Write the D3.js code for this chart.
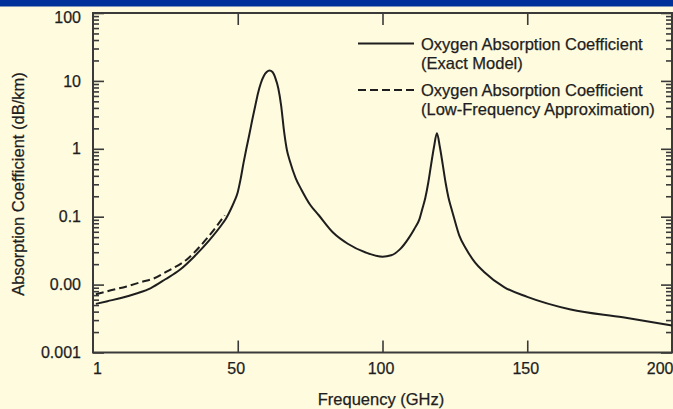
<!DOCTYPE html>
<html>
<head>
<meta charset="utf-8">
<script src="https://cdn.jsdelivr.net/npm/d3@7"></script>
<style>
  html, body { margin: 0; padding: 0; background: #FFFBDE; }
  svg { display: block; }
  text { font-family: "Liberation Sans", Arial, sans-serif; fill: #1e1e1e; stroke: #1e1e1e; stroke-width: 0.25px; }
</style>
</head>
<body>
<svg id="chart" width="673" height="409"></svg>
<script>
// ---- data ----
const exactFreq = [1, 5, 10, 15, 20, 25, 30, 35, 40, 45, 46, 48, 49, 50, 51, 52, 53, 54, 55, 56, 57, 58, 59, 60, 61, 62, 63, 64, 65, 66, 67, 68, 70, 72, 75, 78, 83, 88, 94, 100, 103, 106, 109, 111, 112.8, 113.8, 114.8, 115.8, 116.8, 117.8, 118.8, 119.8, 120.8, 121.8, 122.8, 123.8, 124.8, 126.5, 129, 132, 135, 142, 150, 165, 183, 200];
const exactValue = [0.0052, 0.0057, 0.0064, 0.0074, 0.0089, 0.0120, 0.0165, 0.026, 0.044, 0.082, 0.095, 0.14, 0.175, 0.23, 0.36, 0.62, 1.02, 1.62, 2.65, 4.2, 6.6, 9.3, 11.8, 13.5, 14.2, 13.5, 11.0, 7.8, 4.3, 1.8, 0.95, 0.66, 0.37, 0.25, 0.15, 0.105, 0.058, 0.040, 0.030, 0.0258, 0.027, 0.033, 0.048, 0.066, 0.093, 0.132, 0.19, 0.316, 0.59, 1.07, 1.70, 1.07, 0.59, 0.316, 0.19, 0.132, 0.093, 0.053, 0.033, 0.021, 0.0155, 0.0092, 0.0066, 0.0043, 0.0033, 0.0025];
const approxFreq = [1, 5, 11.6, 17, 20.8, 25.4, 32.4, 39.2, 45.5];
const approxValue = [0.0072, 0.0080, 0.0094, 0.0110, 0.0122, 0.0155, 0.0235, 0.047, 0.105];
const xTickValues = [1, 50, 100, 150, 200];
const xTickLabels = ["1", "50", "100", "150", "200"];
const yTickValues = [100, 10, 1, 0.1, 0.01, 0.001];
const yTickLabels = ["100", "10", "1", "0.1", "0.00", "0.001"];
const legendLabels = [
  ["Oxygen Absorption Coefficient", "(Exact Model)"],
  ["Oxygen Absorption Coefficient", "(Low-Frequency Approximation)"]
];

// ---- layout ----
const W = 673, H = 409;
const L = 93, R = 672, T = 13, B = 352.5;
const svg = d3.select("#chart");
const AX = "#3a3a3a";
const TICK_FS = 16, TITLE_FS = 16.5;
const DASH = "8,4";

svg.append("rect").attr("x", 0).attr("y", 0).attr("width", W).attr("height", H).attr("fill", "#FFFBDE");
svg.append("rect").attr("x", 0).attr("y", 0).attr("width", W).attr("height", 6.5).attr("fill", "#00309A");

const x = d3.scaleLinear().domain([0, 200]).range([L, R]);
const y = d3.scaleLog().domain([0.001, 100]).range([B, T]);

// minor ticks
const minor = [];
for (let e = -3; e < 2; e++) for (let m = 2; m <= 9; m++) minor.push(m * Math.pow(10, e));

function styleAxis(g) {
  g.select(".domain").remove();
  g.selectAll(".tick line").attr("stroke", AX).attr("stroke-width", 1.6);
}

svg.append("g").attr("transform", `translate(${L},0)`)
  .call(d3.axisLeft(y).tickValues(minor).tickSize(-6).tickFormat(""))
  .call(styleAxis);
svg.append("g").attr("transform", `translate(${R},0)`)
  .call(d3.axisRight(y).tickValues(minor).tickSize(-6).tickFormat(""))
  .call(styleAxis);
svg.append("g").attr("transform", `translate(${R},0)`)
  .call(d3.axisRight(y).tickValues(yTickValues).tickSize(-11).tickFormat(""))
  .call(styleAxis);

const yAx = svg.append("g").attr("transform", `translate(${L},0)`)
  .call(d3.axisLeft(y).tickValues(yTickValues).tickSize(-11).tickPadding(12)
    .tickFormat((d, i) => yTickLabels[i]))
  .call(styleAxis);
yAx.selectAll("text").attr("font-size", TICK_FS).attr("font-family", null).attr("fill", null);
yAx.selectAll(".tick").filter(d => d === 100).select("text").attr("dy", "0.6em");

svg.append("g").attr("transform", `translate(0,${T})`)
  .call(d3.axisTop(x).tickValues([50, 100, 150]).tickSize(-12).tickFormat(""))
  .call(styleAxis);
svg.append("g").attr("transform", `translate(0,${B})`)
  .call(d3.axisBottom(x).tickValues([50, 100, 150]).tickSize(-12).tickFormat(""))
  .call(styleAxis);
const xAx = svg.append("g").attr("transform", `translate(0,${B})`)
  .call(d3.axisBottom(x).tickValues(xTickValues).tickSize(0).tickPadding(10)
    .tickFormat((d, i) => xTickLabels[i]))
  .call(g => g.select(".domain").remove());
xAx.selectAll("text").attr("font-size", TICK_FS).attr("font-family", null).attr("fill", null);
xAx.selectAll(".tick").filter(d => d === 1).select("text").attr("dx", 1);
xAx.selectAll(".tick").filter(d => d === 200).select("text").attr("text-anchor", "end").attr("dx", 1);
xAx.selectAll(".tick").filter(d => d !== 1 && d !== 200).select("text").attr("dx", -2);

// frame
svg.append("rect").attr("x", L).attr("y", T).attr("width", R - L).attr("height", B - T)
  .attr("fill", "none").attr("stroke", AX).attr("stroke-width", 2);

// curves
const line = d3.line().x(d => x(d[0])).y(d => y(d[1])).curve(d3.curveMonotoneX);
const exact = exactFreq.map((f, i) => [f, exactValue[i]]);
const approx = approxFreq.map((f, i) => [f, approxValue[i]]);
svg.append("path").datum(exact).attr("d", line).attr("fill", "none")
  .attr("stroke", "#1e1e1e").attr("stroke-width", 2);
svg.append("path").datum(approx).attr("d", line).attr("fill", "none")
  .attr("stroke", "#1e1e1e").attr("stroke-width", 2).attr("stroke-dasharray", DASH);

// legend
const lg = svg.append("g");
const rows = [{y: 43.5, dash: null}, {y: 90, dash: DASH}];
rows.forEach((r, i) => {
  lg.append("line").attr("x1", 358).attr("x2", 414).attr("y1", r.y).attr("y2", r.y)
    .attr("stroke", "#1e1e1e").attr("stroke-width", 2)
    .attr("stroke-dasharray", r.dash);
  const t = lg.append("text").attr("x", 421).attr("y", r.y + 6).attr("font-size", TITLE_FS);
  t.append("tspan").attr("x", 421).text(legendLabels[i][0]);
  t.append("tspan").attr("x", 421).attr("dy", 19).text(legendLabels[i][1]);
});

// axis titles
svg.append("text").attr("x", 381).attr("y", 405).attr("text-anchor", "middle")
  .attr("font-size", TITLE_FS).text("Frequency (GHz)");
svg.append("text").attr("transform", "translate(24,184) rotate(-90)")
  .attr("text-anchor", "middle").attr("font-size", TITLE_FS).text("Absorption Coefficient (dB/km)");
</script>
</body>
</html>
